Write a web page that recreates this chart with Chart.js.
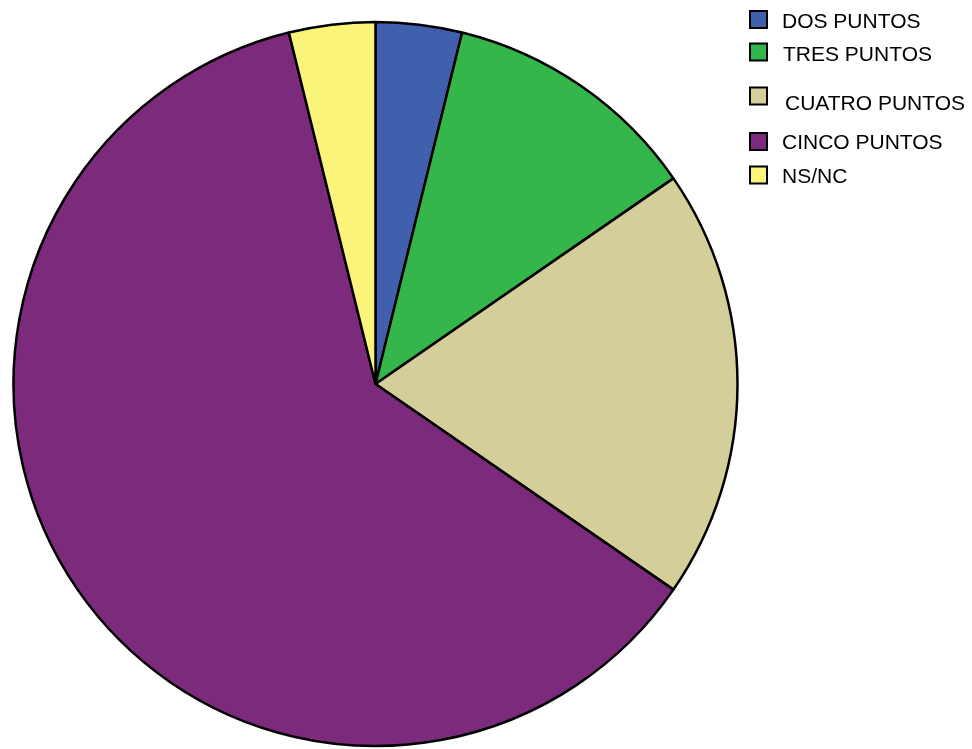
<!DOCTYPE html>
<html>
<head>
<meta charset="utf-8">
<script src="https://cdn.jsdelivr.net/npm/chart.js@4/dist/chart.umd.min.js"></script>
<style>
  html, body { margin: 0; padding: 0; background: #ffffff; }
  #wrap { position: relative; width: 972px; height: 749px; }
</style>
</head>
<body>
<div id="wrap"><canvas id="pie" width="972" height="749"></canvas></div>
<script>
// Answer categories and their counts
const categories = ['DOS PUNTOS', 'TRES PUNTOS', 'CUATRO PUNTOS', 'CINCO PUNTOS', 'NS/NC'];
const counts = [1, 3, 5, 16, 1];
const sliceColors = ['#4060AE', '#35B64B', '#D4CE9B', '#7C2B7C', '#FAF57A'];

// Legend rows: box top and text baseline, with a small indent for some labels
const legendRows = [
  { boxY: 11, baseY: 27.5, textX: 782 },
  { boxY: 43.5, baseY: 61, textX: 783 },
  { boxY: 87.5, baseY: 110, textX: 785 },
  { boxY: 133, baseY: 149, textX: 782 },
  { boxY: 166.5, baseY: 183, textX: 782 }
];

// Draws the legend at fixed spots to the right of the pie
const sideLegend = {
  id: 'sideLegend',
  afterDraw(chart) {
    const ctx = chart.ctx;
    const labels = chart.data.labels;
    const colors = chart.data.datasets[0].backgroundColor;
    ctx.save();
    ctx.font = '21px "Liberation Sans", Arial, sans-serif';
    ctx.textBaseline = 'alphabetic';
    ctx.textAlign = 'left';
    labels.forEach((label, i) => {
      const row = legendRows[i];
      ctx.fillStyle = colors[i];
      ctx.fillRect(750, row.boxY, 17, 17);
      ctx.lineWidth = 2;
      ctx.strokeStyle = '#000000';
      ctx.strokeRect(750, row.boxY, 17, 17);
      ctx.fillStyle = '#000000';
      ctx.fillText(label, row.textX, row.baseY);
    });
    ctx.restore();
  }
};

new Chart(document.getElementById('pie'), {
  type: 'pie',
  data: {
    labels: categories,
    datasets: [{
      data: counts,
      backgroundColor: sliceColors,
      borderColor: '#000000',
      borderWidth: 2.5,
      hoverOffset: 0
    }]
  },
  options: {
    responsive: false,
    animation: false,
    devicePixelRatio: 1,
    radius: 362,
    layout: { padding: { left: 0, right: 221, top: 19, bottom: 0 } },
    plugins: {
      legend: { display: false },
      tooltip: { enabled: false }
    }
  },
  plugins: [sideLegend]
});
</script>
</body>
</html>
